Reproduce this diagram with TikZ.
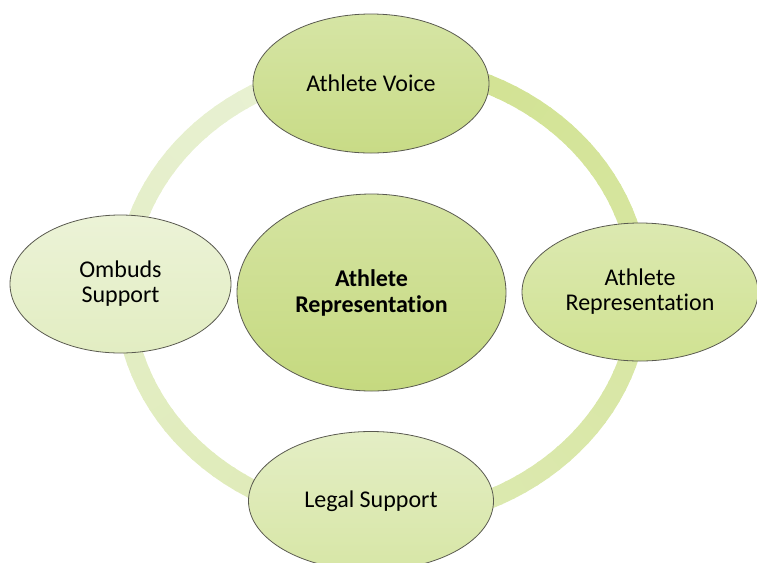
\documentclass[tikz,border=0pt]{standalone}
\usepackage{fontspec}
\setmainfont{Carlito}[Ligatures=NoCommon]
\usetikzlibrary{shapes.geometric}
\definecolor{ringL}{HTML}{EAF2D8}
\definecolor{ringD}{HTML}{D1E290}
\definecolor{edgeC}{HTML}{5A5A50}
\definecolor{voiceT}{HTML}{D6E5A5}
\definecolor{voiceB}{HTML}{C8DB86}
\definecolor{hubT}{HTML}{D5E4A2}
\definecolor{hubB}{HTML}{C5D97F}
\definecolor{repT}{HTML}{DCE9B1}
\definecolor{repB}{HTML}{D0E292}
\definecolor{legalT}{HTML}{E4EEC5}
\definecolor{legalB}{HTML}{D7E6A6}
\definecolor{ombT}{HTML}{ECF3D7}
\definecolor{ombB}{HTML}{E2EDC2}
\begin{document}
\begin{tikzpicture}[x=0.75pt,y=-0.75pt,
  bub/.style={ellipse, draw=edgeC, line width=0.6pt, inner sep=0pt, align=center,
              font=\fontsize{18}{18.75}\selectfont},
  hub/.style={bub, font=\fontsize{18}{19.5}\selectfont\bfseries},
  ringseg/.style={line width=14.25pt, line cap=butt}
]
\useasboundingbox (0,0) rectangle (757,562);
\clip (0,0) rectangle (757,562);
% ring: lightest just left of the top bubble, darkening counter-clockwise
\foreach \a in {-90,-87,...,267}{
  \pgfmathsetmacro\p{(\a+90)/3.6}
  \draw[ringseg, draw=ringL!\p!ringD] plot[domain=\a:\a+3.6, samples=5]
     ({382+258*cos(\x)},{292+228*sin(\x)});
}
% nodes
\node[bub, minimum width=177pt, minimum height=104.25pt,
      top color=voiceT, bottom color=voiceB] (voice) at (371,83.5) {Athlete Voice};
\node[bub, minimum width=177pt, minimum height=103.5pt,
      top color=repT, bottom color=repB] (rep) at (640,292) {Athlete\\Representation};
\node[bub, minimum width=183.75pt, minimum height=104.25pt,
      top color=legalT, bottom color=legalB] (legal) at (371,501) {Legal Support};
\node[bub, minimum width=165.75pt, minimum height=103.5pt,
      top color=ombT, bottom color=ombB] (ombuds) at (120.5,284) {Ombuds\\Support};
\node[hub, minimum width=201.75pt, minimum height=147.75pt,
      top color=hubT, bottom color=hubB] (hub) at (371.5,292.5) {Athlete\\Representation};
\end{tikzpicture}
\end{document}
